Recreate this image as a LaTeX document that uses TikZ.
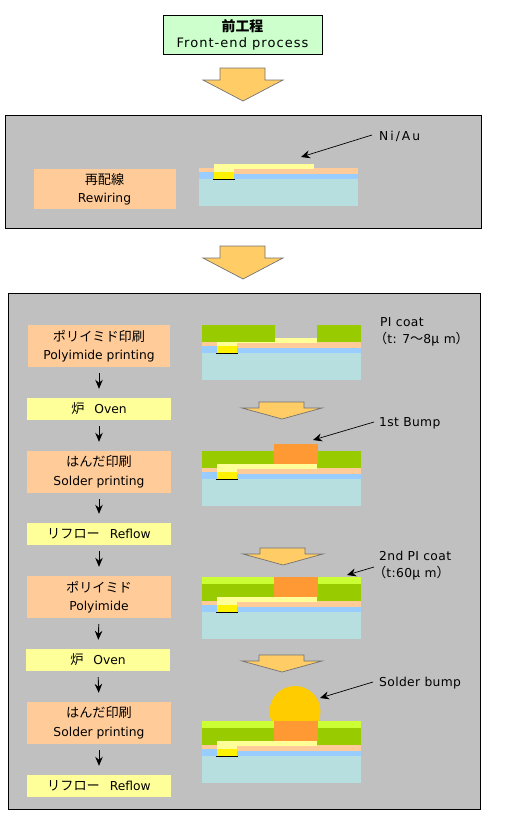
\documentclass[tikz,border=0pt]{standalone}
\usepackage{fontspec}
\setmainfont{DejaVu Sans}
\newfontfamily\jpfont[Scale=1.07]{Noto Sans CJK JP}
\usetikzlibrary{arrows.meta, positioning}
\definecolor{panelgray}{HTML}{C0C0C0}
\definecolor{peach}{HTML}{FFCC99}
\definecolor{paleyellow}{HTML}{FFFF99}
\definecolor{palegreen}{HTML}{CCFFCC}
\definecolor{substrate}{HTML}{B8DFE0}
\definecolor{wireblue}{HTML}{99CCFF}
\definecolor{pigreen}{HTML}{99CC00}
\definecolor{pilight}{HTML}{CCFF33}
\definecolor{bumporange}{HTML}{FF9933}
\definecolor{soldergold}{HTML}{FFCC00}
\definecolor{arrowgold}{HTML}{FFCC66}
\newcommand{\jp}[1]{{\jpfont #1}}
% base layers of one cross-section
\newcommand{\basestack}{
	\fill[substrate] (0,14) rectangle (159,41);
	\fill[wireblue] (0,7) rectangle (159,14);
	\fill[peach] (0,3) rectangle (159,9);
	\fill[wireblue] (0,7) rectangle (15,14);
	\fill[paleyellow] (15,-1) rectangle (115,4);
	\fill[paleyellow] (15,-1) rectangle (35,7);
	\fill[yellow] (15,7) rectangle (35,14);
	\draw[black,line width=0.9] (14,14.5) -- (36,14.5);
}
% block arrow between the steps
\newcommand{\blockarrow}[3]{
	\filldraw[fill=arrowgold,draw=black!55,line width=0.7]
	(#1-23,#2) -- (#1+22,#2) -- (#1+22,#2+#3) -- (#1+40,#2+#3) -- (#1,#2+#3+#3*5/3+1) -- (#1-40,#2+#3) -- (#1-23,#2+#3) -- cycle;
}
\tikzset{
	labelbox/.style={fill=peach,minimum width=142,minimum height=42,inner sep=0,align=center,font=\fontsize{12.3}{18.5}\selectfont},
	ovenbox/.style={fill=paleyellow,minimum width=144,minimum height=22,inner sep=0,font=\fontsize{12.3}{14}\selectfont},
	note/.style={anchor=west,inner sep=0,align=left,font=\fontsize{12.3}{17}\selectfont\addfontfeatures{LetterSpace=3}},
	leader/.style={-{Stealth[length=9,width=8]},line width=0.7},
	flow/.style={-{Stealth[length=9,width=7.5]},line width=0.9,shorten <=6,shorten >=9}
}
\begin{document}
\begin{tikzpicture}[x=1pt,y=-1pt]
	\useasboundingbox (0,0) rectangle (512,820);
	
	% Header
	\node[draw=black,fill=palegreen,line width=0.6,minimum width=159,minimum height=39,inner sep=0,align=center,font=\fontsize{13}{16}\selectfont] (frontend) at (242.5,34.5) {\jp{\bfseries 前工程}\\\addfontfeatures{LetterSpace=8}Front-end process};
	\blockarrow{243}{68}{12}
	
	% Rewiring panel
	\draw[black,fill=panelgray,line width=0.7] (5,115) rectangle (481,228);
	\node[labelbox,minimum height=40] (rewiring) at (104.5,189) {\jp{再配線}\\Rewiring};
	\begin{scope}[shift={(199,165)}]
		\basestack
	\end{scope}
	\node[note,font=\fontsize{12.3}{17}\selectfont\addfontfeatures{LetterSpace=16}] (niau) at (379,136) {Ni/Au};
	\coordinate (niautip) at (301,157);
	\draw[leader] (niau.west) ++(-7,-1) -- (niautip);
	
	\blockarrow{243}{246}{12}
	
	% Process panel
	\draw[black,fill=panelgray,line width=0.7] (8,293) rectangle (480,809);
	
	% Steps on the left
	\node[labelbox] (polyprint) at (99,346) {\jp{ポリイミド印刷}\\Polyimide printing};
	\node[ovenbox] (ovenone) at (99,409) {\jp{炉}\hspace{10pt}Oven};
	\node[labelbox,minimum width=144] (solderone) at (99,472) {\jp{はんだ印刷}\\Solder printing};
	\node[ovenbox] (reflowone) at (99,534) {\jp{リフロー}\hspace{10pt}Reflow};
	\node[labelbox,minimum width=144] (polyimide) at (99,597) {\jp{ポリイミド}\\Polyimide};
	\node[ovenbox] (oventwo) at (98,660) {\jp{炉}\hspace{10pt}Oven};
	\node[labelbox,minimum width=144] (soldertwo) at (99,723) {\jp{はんだ印刷}\\Solder printing};
	\node[ovenbox] (reflowtwo) at (99,786) {\jp{リフロー}\hspace{10pt}Reflow};
	\foreach \a/\b in {polyprint/ovenone,ovenone/solderone,solderone/reflowone,reflowone/polyimide,polyimide/oventwo,oventwo/soldertwo,soldertwo/reflowtwo} {
		\draw[flow] (\a.south) -- (\b.north);
	}
	
	% Polyimide coat
	\begin{scope}[shift={(202,339)}]
		\basestack
		\fill[pigreen] (0,-14) rectangle (73,3);
		\fill[pigreen] (115,-14) rectangle (159,3);
	\end{scope}
	\node[note] (picoat) at (380,332) {PI coat\\\hspace{-6pt}\jp{（}t: 7\jp{〜}8\jp{μ} m\jp{）}};
	\blockarrow{282}{402}{6}
	
	% First bump
	\begin{scope}[shift={(202,465)}]
		\basestack
		\fill[pigreen] (0,-14) rectangle (159,3);
		\fill[paleyellow] (15,-1) rectangle (115,4);
		\fill[paleyellow] (15,-1) rectangle (35,7);
		\fill[bumporange] (72,-21) rectangle (116,-1);
	\end{scope}
	\node[note] (firstbump) at (379,423) {1st Bump};
	\coordinate (firstbumptip) at (313,440);
	\draw[leader] (firstbump.west) ++(-5,-1) -- (firstbumptip);
	\blockarrow{283}{548}{6}
	
	% Second coat
	\begin{scope}[shift={(202,598)}]
		\basestack
		\fill[pigreen] (0,-14) rectangle (159,3);
		\fill[pilight] (0,-21) rectangle (159,-14);
		\fill[paleyellow] (15,-1) rectangle (115,4);
		\fill[paleyellow] (15,-1) rectangle (35,7);
		\fill[bumporange] (72,-21) rectangle (116,-1);
	\end{scope}
	\node[note] (picoattwo) at (379,566) {2nd PI coat\\\hspace{-6pt}\jp{（}t:60\jp{μ} m\jp{）}};
	\coordinate (picoattip) at (347,575);
	\draw[leader] (picoattwo.west) ++(-5,1) -- (picoattip);
	\blockarrow{282}{655}{6}
	
	% Solder bump
	\begin{scope}[shift={(202,742)}]
		\fill[soldergold] (93,-30.5) circle (25.5);
		\basestack
		\fill[pigreen] (0,-14) rectangle (159,3);
		\fill[pilight] (0,-21) rectangle (159,-14);
		\fill[paleyellow] (15,-1) rectangle (115,4);
		\fill[paleyellow] (15,-1) rectangle (35,7);
		\fill[bumporange] (72,-21) rectangle (116,-1);
	\end{scope}
	\node[note] (solderbump) at (379,683) {Solder bump};
	\coordinate (solderbumptip) at (320,698);
	\draw[leader] (solderbump.west) ++(-6,-1) -- (solderbumptip);
	
\end{tikzpicture}
\end{document}
